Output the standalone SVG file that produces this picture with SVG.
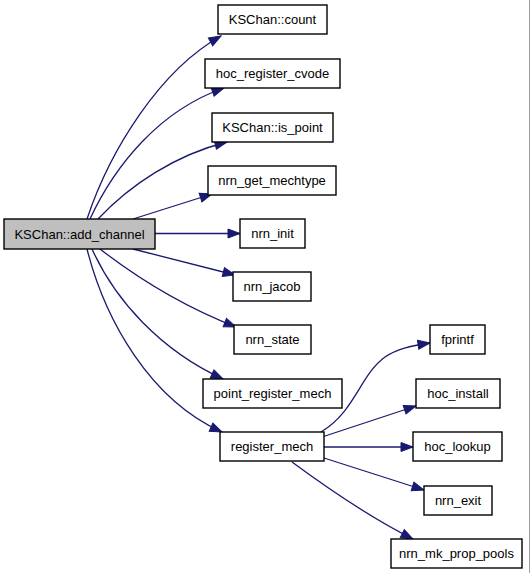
<svg xmlns="http://www.w3.org/2000/svg" width="531" height="573" viewBox="0 0 531 573">
<style>
.node rect{fill:#ffffff;stroke:#000000;stroke-width:1.4}
.node.main rect{fill:#bfbfbf}
.node text{font-family:"Liberation Sans",Arial,sans-serif;font-size:13px;fill:#000000;text-anchor:middle}
.edges path{fill:none;stroke:#191970;stroke-width:1.3}
</style>
<defs>
<marker id="arr" markerUnits="userSpaceOnUse" markerWidth="14" markerHeight="12" viewBox="0 0 14 12" refX="13" refY="6" orient="auto">
<path d="M1,1.5 L13,6 L1,10.5 Z" fill="#191970" stroke="#191970" stroke-width="1"/>
</marker>
</defs>
<rect x="0" y="0" width="531" height="573" fill="#ffffff"/>
<line x1="529.5" y1="0" x2="529.5" y2="573" stroke="#a0a0a0" stroke-width="1"/>
<g class="edges">
<path d="M87,219 C110,150 160,70 221,36" marker-end="url(#arr)"/>
<path d="M90,219 C115,165 160,110 224,88" marker-end="url(#arr)"/>
<path d="M98,219 C130,185 175,155 227,142" marker-end="url(#arr)"/>
<path d="M133,219 L212,194" marker-end="url(#arr)"/>
<path d="M155,233.5 L240,233.5" marker-end="url(#arr)"/>
<path d="M133,249 L235,275" marker-end="url(#arr)"/>
<path d="M100,249 C140,280 185,307 236,327" marker-end="url(#arr)"/>
<path d="M92,249 C115,300 160,350 223,379" marker-end="url(#arr)"/>
<path d="M87,249 C105,320 150,400 222,432" marker-end="url(#arr)"/>
<path d="M321,432 C355,412 360,375 385,357 C397,349 410,346 430,343" marker-end="url(#arr)"/>
<path d="M322,437 L416,406" marker-end="url(#arr)"/>
<path d="M324,447 L413,447" marker-end="url(#arr)"/>
<path d="M324,458 L424,490" marker-end="url(#arr)"/>
<path d="M292,462 C330,490 375,520 413,539" marker-end="url(#arr)"/>
</g>
<g id="node_add_channel" class="node main"><rect x="4" y="219" width="151" height="30"/><text x="79.5" y="238.5">KSChan::add_channel</text></g>
<g id="node_count" class="node"><rect x="218" y="5" width="109" height="29"/><text x="272.5" y="24">KSChan::count</text></g>
<g id="node_cvode" class="node"><rect x="205" y="59" width="135" height="29"/><text x="272.5" y="78">hoc_register_cvode</text></g>
<g id="node_is_point" class="node"><rect x="212" y="113" width="121" height="29"/><text x="272.5" y="132">KSChan::is_point</text></g>
<g id="node_mechtype" class="node"><rect x="208" y="166" width="128" height="29"/><text x="272" y="185">nrn_get_mechtype</text></g>
<g id="node_init" class="node"><rect x="240" y="219" width="65" height="29"/><text x="272.5" y="238">nrn_init</text></g>
<g id="node_jacob" class="node"><rect x="233" y="272" width="78" height="29"/><text x="272" y="291">nrn_jacob</text></g>
<g id="node_state" class="node"><rect x="234" y="325" width="77" height="29"/><text x="272.5" y="344">nrn_state</text></g>
<g id="node_point_reg" class="node"><rect x="203" y="379" width="139" height="29"/><text x="272.5" y="398">point_register_mech</text></g>
<g id="node_register_mech" class="node"><rect x="220" y="432" width="104" height="29"/><text x="272" y="451">register_mech</text></g>
<g id="node_fprintf" class="node"><rect x="430" y="325" width="55" height="29"/><text x="457.5" y="344">fprintf</text></g>
<g id="node_hoc_install" class="node"><rect x="416" y="379" width="84" height="29"/><text x="458" y="398">hoc_install</text></g>
<g id="node_hoc_lookup" class="node"><rect x="413" y="432" width="89" height="29"/><text x="457.5" y="451">hoc_lookup</text></g>
<g id="node_nrn_exit" class="node"><rect x="424" y="486" width="68" height="29"/><text x="458" y="505">nrn_exit</text></g>
<g id="node_pools" class="node"><rect x="391" y="539" width="131" height="29"/><text x="456.5" y="558">nrn_mk_prop_pools</text></g>
</svg>
